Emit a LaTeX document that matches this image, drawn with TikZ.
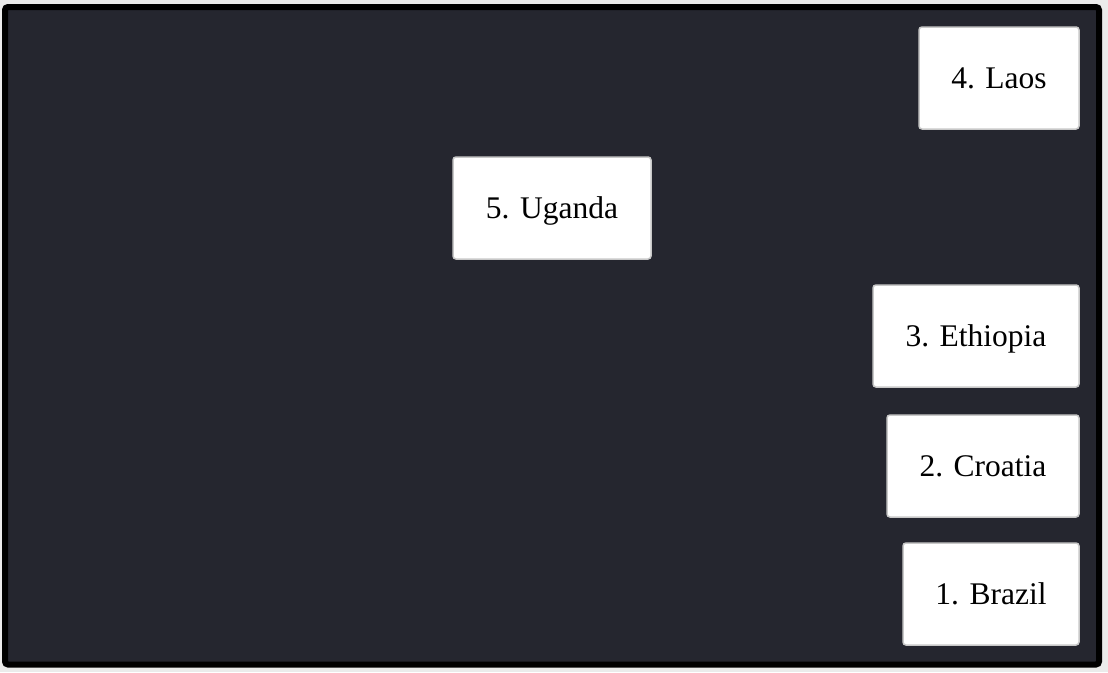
\documentclass[tikz,border=0pt]{standalone}
\usepackage{fontspec}
\setmainfont{Liberation Serif}
\usepackage{tikz}

\definecolor{pagegrey}{RGB}{235,235,235}
\definecolor{boarddark}{RGB}{37,38,47}
\definecolor{boxline}{RGB}{200,200,200}

\tikzset{
	country/.style={draw=boxline, line width=1.5pt, fill=white, rounded corners=3pt,
		minimum height=102pt, inner sep=0pt, text height=26pt, text depth=6pt,
		font=\fontsize{31.5}{38}\selectfont}
}

\begin{document}
\begin{tikzpicture}[x=1pt, y=-1pt]
	\fill[pagegrey] (0, 0) rectangle (1108, 672);
	\useasboundingbox (0, 0) rectangle (1108, 672);
	\draw[line width=6pt, rounded corners=3pt, fill=boarddark] (5, 7) rectangle (1099, 664.5);
	\node [country, minimum width=160pt] (laos) at (999, 78) {4. Laos};
	\node [country, minimum width=198pt] (uganda) at (552, 208) {5. Uganda};
	\node [country, minimum width=206pt] (ethiopia) at (976, 336) {3. Ethiopia};
	\node [country, minimum width=192pt] (croatia) at (983, 466) {2. Croatia};
	\node [country, minimum width=176pt] (brazil) at (991, 594) {1. Brazil};
\end{tikzpicture}
\end{document}
